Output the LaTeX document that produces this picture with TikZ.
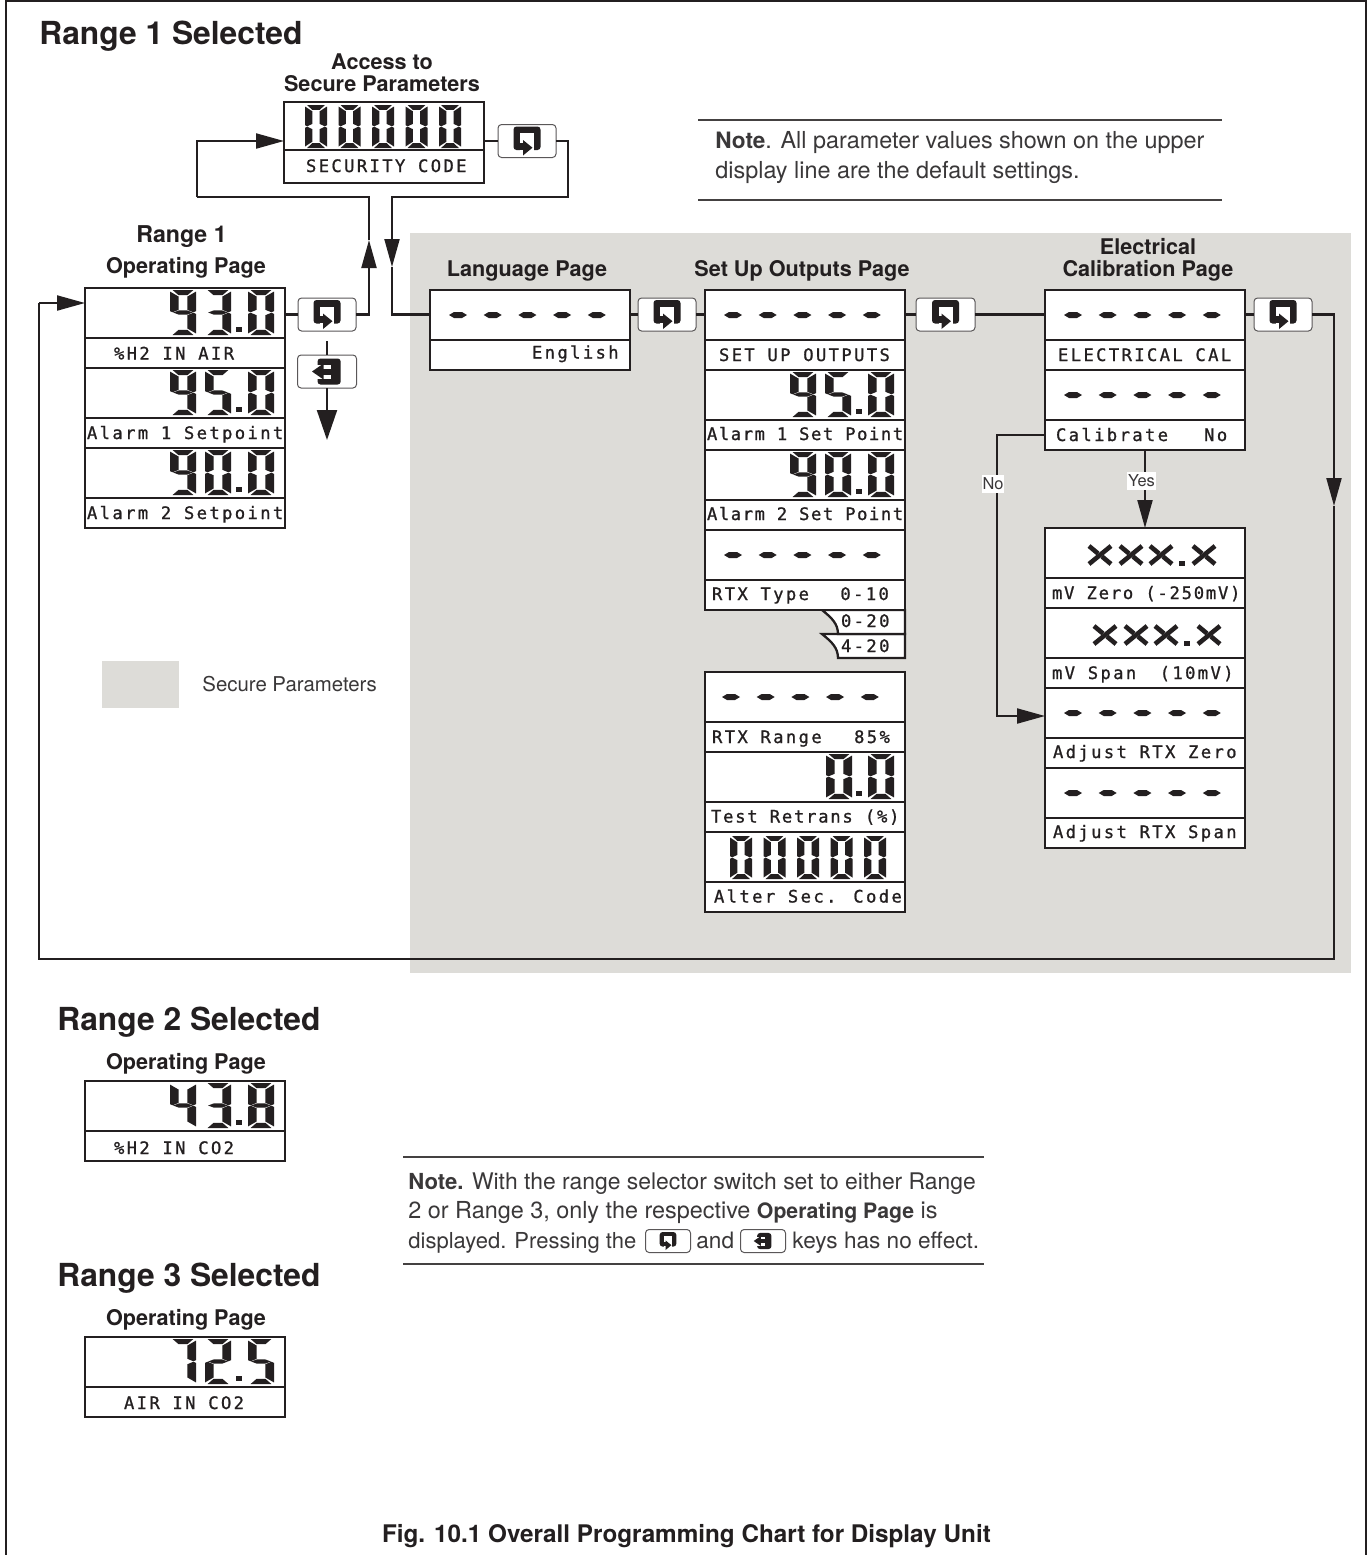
\documentclass[tikz,border=0pt]{standalone}
\usepackage{fontspec}
\usetikzlibrary{arrows.meta,calc}
\setmainfont{TeX Gyre Heros}
\newfontfamily\medbase[Scale=0.965]{TeX Gyre Heros}
\newcommand\medfont{\medbase\bfseries}
\newfontfamily\lcdfont[LetterSpace=13.7,FakeBold=1]{DejaVu Sans Mono}
\definecolor{ink}{HTML}{231F20}
\definecolor{secure}{HTML}{DDDCD8}
\definecolor{bodyink}{HTML}{3A3839}
\newcommand\ls[1]{\addfontfeature{LetterSpace=#1}}
\tikzset{
  ln/.style={draw=ink,line width=1.05pt,line join=miter},
  arr/.style={-{Triangle[length=14pt,width=7.5pt]}},
  bigarr/.style={-{Triangle[length=15pt,width=10pt]}},
  rowbox/.style={draw=ink,fill=white,line width=1.15pt,minimum width=100pt,minimum height=40pt,inner sep=0pt,outer sep=0pt,anchor=north west},
  keybox/.style={draw=ink!75,fill=white,line width=.5pt,rounded corners=1.8pt,inner sep=0pt,outer sep=0pt},
  lcdlabel/.style={font=\lcdfont\fontsize{8.6}{10}\selectfont,text=ink,anchor=base west,inner sep=0pt,outer sep=0pt},
  heading/.style={font=\medfont\fontsize{16.45}{18}\selectfont,text=ink,anchor=base west,inner sep=0pt},
  pagetitle/.style={font=\medfont\fontsize{11.2}{13}\selectfont,text=ink,anchor=base,inner sep=0pt},
  bodytext/.style={font=\fontsize{11.7}{13}\selectfont,text=bodyink,anchor=base west,inner sep=0pt},
  tagbox/.style={fill=white,font=\fontsize{8.2}{9}\selectfont,text=bodyink,inner xsep=.5pt,inner ysep=1.5pt},
  noteline/.style={draw=ink!85,line width=.55pt}
}
% seven-segment parts on a unit box
\def\sega{\fill (.10,0)--(.90,0)--(.67,.115)--(.33,.115)--cycle;}
\def\segb{\fill (1,.035)--(1,.47)--(.9,.495)--(.67,.44)--(.67,.145)--cycle;}
\def\segc{\fill (1,.965)--(1,.53)--(.9,.505)--(.67,.56)--(.67,.855)--cycle;}
\def\segd{\fill (.10,1)--(.90,1)--(.67,.885)--(.33,.885)--cycle;}
\def\sege{\fill (0,.965)--(0,.53)--(.1,.505)--(.33,.56)--(.33,.855)--cycle;}
\def\segf{\fill (0,.035)--(0,.47)--(.1,.495)--(.33,.44)--(.33,.145)--cycle;}
\def\segg{\fill (.12,.5)--(.33,.455)--(.67,.455)--(.88,.5)--(.67,.545)--(.33,.545)--cycle;}
\expandafter\def\csname dg0\endcsname{a,b,c,d,e,f}
\expandafter\def\csname dg2\endcsname{a,b,g,e,d}
\expandafter\def\csname dg3\endcsname{a,b,g,c,d}
\expandafter\def\csname dg4\endcsname{f,g,b,c}
\expandafter\def\csname dg5\endcsname{a,f,g,c,d}
\expandafter\def\csname dg7\endcsname{a,b,c}
\expandafter\def\csname dg8\endcsname{a,b,c,d,e,f,g}
\expandafter\def\csname dg9\endcsname{a,b,f,g,c,d}
\newcommand\lcd[5]{%
  \begin{scope}[shift={(#1,#2)},x=#3*0.5pt,y=-#4*0.5pt,fill=ink]
    \expandafter\let\expandafter\lcdlist\csname dg#5\endcsname
    \foreach \s in \lcdlist {\csname seg\s\endcsname}
  \end{scope}}
% big number: three digits and a point, row top-left at (x,y)
\newcommand\bignum[5]{%
  \lcd{#1+85}{#2+2}{26}{45}{#3}\lcd{#1+120}{#2+2}{26}{45}{#4}\lcd{#1+163}{#2+2}{26}{45}{#5}%
  \fill[ink] (#1+151,#2+39) rectangle (#1+156.5,#2+44);}
\newcommand\dashes[2]{%
  \foreach \i in {0,1,2,3,4}{%
    \fill[ink] (#1+19+\i*34.7,#2+25)--(#1+24+\i*34.7,#2+22)--(#1+32+\i*34.7,#2+22)--(#1+37+\i*34.7,#2+25)--(#1+32+\i*34.7,#2+28)--(#1+24+\i*34.7,#2+28)--cycle;}}
\newcommand\xnum[2]{%
  \foreach \dx in {0,31,61,104}{%
    \draw[ink,line width=2.3pt] (#1+\dx+1,#2+2)--(#1+\dx+10,#2+9.5) (#1+\dx+14,#2+12.5)--(#1+\dx+23,#2+20);
    \draw[ink,line width=2.3pt] (#1+\dx+1,#2+20)--(#1+\dx+23,#2+2);}
  \fill[ink] (#1+91,#2+17) rectangle (#1+97,#2+22);}
\newcommand\lcdrow[5][71]{% [label baseline], name, x, y, {offset}{text}
  \node[rowbox] (#2) at (#3,#4) {};
  \draw[ln,line width=1.15pt] (#3,#4+50) -- (#3+200,#4+50);
  \lcdtext{#2-label}{#3}{#4+#1}#5}
\newcommand\lcdtext[5]{\node[lcdlabel] (#1) at (#2+#4,#3) {#5};}
\newcommand\iconR{%
  \fill[ink,rounded corners=1.5pt] (-13.5,-14.5) rectangle (13.5,9);
  \fill[white] (-7,-8) rectangle (7,3);
  \fill[white] (-7,3) rectangle (7,10);
  \fill[ink] (-7,1.5) rectangle (-3,8.5);
  \fill[ink] (-4,-1)--(5.5,6.7)--(-4,14.5)--cycle;}
\newcommand\iconE{%
  \fill[ink,rounded corners=1.5pt] (-9.5,-13) rectangle (13.7,13);
  \fill[white] (-10.5,-7) rectangle (4,7.5);
  \fill[ink] (-4,-3) rectangle (4.5,3);
  \fill[ink] (-3.5,-8)--(-15,0)--(-3.5,8)--cycle;}
\newcommand\keybtn[7]{% name cx cy w h icon scale
  \node[keybox,minimum width=#4*0.5pt,minimum height=#5*0.5pt] (#1) at (#2,#3) {};
  \begin{scope}[shift={(#2,#3)},scale=#7]#6\end{scope}}
\begin{document}
\begin{tikzpicture}[x=0.5pt,y=-0.5pt]
\useasboundingbox (0,0) rectangle (1367,1555);
\fill[white] (0,0) rectangle (1367,1555);
% frame
\draw[ln,line width=.85pt] (6,1555) -- (6,1) -- (1366,1) -- (1366,1555);
% secure zones
\fill[secure] (410,233) rectangle (1351,973);
\fill[secure] (102,661) rectangle (179,708);
\node[bodytext,font=\fontsize{10.2}{12}\selectfont] (leg) at (202,691) {Secure Parameters};
% headings
\node[heading] (h1) at (39,44) {Range 1 Selected};
\node[heading] (h2) at (57,1030) {Range 2 Selected};
\node[heading] (h3) at (57,1286) {Range 3 Selected};
\node[pagetitle] (t1a) at (382,69) {Access to};
\node[pagetitle] (t1b) at (382,91) {Secure Parameters};
\node[pagetitle,font=\medfont\fontsize{12}{13}\selectfont] (t2a) at (181.5,242) {Range 1};
\node[pagetitle] (t2b) at (186,273) {Operating Page};
\node[pagetitle] (t3) at (527,276) {Language Page};
\node[pagetitle] (t4) at (802,276) {Set Up Outputs Page};
\node[pagetitle] (t5a) at (1148,254) {Electrical};
\node[pagetitle] (t5b) at (1148,276) {Calibration Page};
\node[pagetitle] (t6) at (186,1069) {Operating Page};
\node[pagetitle] (t7) at (186,1325) {Operating Page};
\node[pagetitle,font=\medfont\fontsize{12.57}{14}\selectfont] (cap) at (686.5,1542) {Fig. 10.1 Overall Programming Chart for Display Unit};
% notes
\draw[noteline] (698,120) -- (1222,120) (698,200) -- (1222,200);
\node[bodytext] (n1a) at (715,148) {{\medfont Note}. All parameter values shown on the upper};
\node[bodytext] (n1b) at (715,178) {display line are the default settings.};
\draw[noteline] (403,1157) -- (984,1157) (403,1264) -- (984,1264);
\node[bodytext,font=\fontsize{11.45}{13}\selectfont] (n2a) at (408,1189) {{\medfont Note.} With the range selector switch set to either Range};
\node[bodytext] (n2b) at (408,1218) {2 or Range 3, only the respective {\medfont\fontsize{11}{13}\selectfont Operating Page} is};
\node[bodytext,font=\fontsize{11}{13}\selectfont] (n2c) at (408,1248) {displayed. Pressing the};
\node[bodytext,font=\fontsize{11.3}{13}\selectfont] (n2d) at (696,1248) {and};
\node[bodytext,font=\fontsize{11.3}{13}\selectfont] (n2e) at (792,1248) {keys has no effect.};
\keybtn{ink1}{668}{1241}{45}{23}{\iconR}{.62}
\keybtn{ink2}{763}{1241}{45}{23}{\iconE}{.62}
% access block
\node[rowbox,minimum height=40.5pt] (sec) at (284,102) {};
\draw[ln,line width=1.15pt] (284,150) -- (484,150);
\node[lcdlabel] (sec-label) at (306,172) {SECURITY CODE};
\foreach \i in {0,...,4}{\lcd{305+\i*33.5}{105}{22}{43}{0}}
% range 1 operating page
\lcdrow[71.5]{op1}{85}{288}{{29}{\%H2 IN AIR}}
\lcdrow{op2}{85}{368}{{2}{Alarm 1 Setpoint}}
\lcdrow{op3}{85}{448}{{2}{Alarm 2 Setpoint}}
\bignum{85}{288}{9}{3}{0}
\bignum{85}{368}{9}{5}{0}
\bignum{85}{448}{9}{0}{0}
% language
\lcdrow[68.5]{lang}{430}{290}{{102}{English}}
\dashes{430}{290}
% set up outputs
\draw[ln,line width=1.15pt,fill=white] (822,634) .. controls (832,642) and (838,648) .. (838,658) -- (905,658) -- (905,634) -- cycle;
\draw[ln,line width=1.15pt,fill=white] (822,610) .. controls (832,618) and (838,624) .. (838,634) -- (905,634) -- (905,610) -- cycle;
\node[lcdlabel] (tab1) at (841,627) {0-20};
\node[lcdlabel] (tab2) at (841,652) {4-20};
\lcdrow{su1}{705}{290}{{14}{SET UP OUTPUTS}}
\lcdrow[70]{su2}{705}{370}{{2}{\ls{9}Alarm 1 Set Point}}
\lcdrow[70]{su3}{705}{450}{{2}{\ls{9}Alarm 2 Set Point}}
\lcdrow[70]{su4}{705}{530}{{7}{RTX Type~~\kern3pt0-10}}
\dashes{705}{290}
\bignum{705}{370}{9}{5}{0}
\bignum{705}{450}{9}{0}{0}
\dashes{705}{530}
\lcdrow{su5}{705}{672}{{7}{RTX Range~~\kern3.5pt85\%}}
\lcdrow[70.5]{su6}{705}{752}{{6}{\ls{10.2}Test Retrans (\%)}}
\lcdrow[70.5]{su7}{705}{832}{{9}{Alter Sec. Code}}
\dashes{703}{672}
\lcd{826}{754}{26}{45}{0}\lcd{868}{754}{26}{45}{0}
\fill[ink] (856,791) rectangle (861.5,796);
\foreach \i in {0,...,4}{\lcd{730+\i*33.5}{836}{22}{43}{0}}
% electrical calibration
\lcdrow{el1}{1045}{290}{{13}{ELECTRICAL CAL}}
\lcdrow{el2}{1045}{370}{{11}{Calibrate~~~\kern-1ptNo}}
\dashes{1045}{290}
\dashes{1045}{370}
\lcdrow{el3}{1045}{528}{{7}{\ls{10.2}mV Zero (-250mV)}}
\lcdrow{el4}{1045}{608}{{7}{mV Span~~\kern-1pt(10mV)}}
\lcdrow[70]{el5}{1045}{688}{{8}{Adjust RTX Zero}}
\lcdrow[70]{el6}{1045}{768}{{8}{Adjust RTX Span}}
\xnum{1088}{544}
\xnum{1093}{624}
\dashes{1045}{688}
\dashes{1045}{768}
% ranges 2 and 3
\lcdrow[73]{r2}{85}{1081}{{29}{\%H2 IN CO2}}
\bignum{85}{1081}{4}{3}{8}
\lcdrow[72]{r3}{85}{1337}{{39}{AIR IN CO2}}
\bignum{85}{1337}{7}{2}{5}
% keys
\keybtn{ksec}{527}{141}{58}{33}{\iconR}{1}
\keybtn{kop}{327}{314.5}{58}{33}{\iconR}{1}
\keybtn{kent}{327}{371.5}{59}{33}{\iconE}{1}
\keybtn{klang}{667}{314.5}{58}{33}{\iconR}{1}
\keybtn{ksu}{945.5}{314.5}{59}{33}{\iconR}{1}
\keybtn{kel}{1283}{314.5}{58}{33}{\iconR}{1}
% connector points
\coordinate (c1) at (568,197);
\coordinate (c2) at (392,197);
\coordinate (c3) at (392,267);
\coordinate (ua) at (369,240);
\coordinate (c4) at (369,197);
\coordinate (c5) at (197,197);
\coordinate (f1) at (327,341);
\coordinate (tip) at (327,440);
\coordinate (da) at (1334,506);
\coordinate (c6) at (1334,959);
\coordinate (c7) at (39,959);
\coordinate (c8) at (39,303);
\coordinate (port) at (1045,435);
\coordinate (c9) at (997,435);
\coordinate (c10) at (997,716);
\coordinate (port2) at (1045,716);
\coordinate (yesa) at (1145,450);
\coordinate (yesb) at (1145,528);
% connectors
\draw[ln] (ksec.west) -- (ksec.west -| sec.east);
\draw[ln,arr] (ksec.east) -| (c1) -- (c2) -- (c3);
\draw[ln] (c3) |- (klang.west -| lang.west);
\draw[ln] (op1.east |- kop.west) -- (kop.west);
\draw[ln,arr] (kop.east) -| (ua);
\draw[ln] (ua) -- (c4) -- (c5);
\draw[ln,arr] (c5) |- (ksec.west -| sec.west);
\draw[ln] (f1) -- (kent.north);
\draw[ln,bigarr] (kent.south) -- (tip);
\draw[ln] (lang.east |- klang.west) -- (klang.west);
\draw[ln] (klang.east) -- (klang.east -| su1.west);
\draw[ln] (su1.east |- ksu.west) -- (ksu.west);
\draw[ln] (ksu.east) -- (ksu.east -| el1.west);
\draw[ln] (el1.east |- kel.west) -- (kel.west);
\draw[ln,arr] (kel.east) -| (da);
\draw[ln] (da) -- (c6) -- (c7) -- (c8);
\draw[ln,arr] (c8) -- (c8 -| op1.west);
\draw[ln,arr] (port) -- (c9) -- (c10) -- (port2);
\draw[ln,arr] (yesa) -- (yesb);
\node[tagbox] (yes) at (1141.5,481) {Yes};
\node[tagbox] (no) at (993,484) {No};
\end{tikzpicture}
\end{document}
